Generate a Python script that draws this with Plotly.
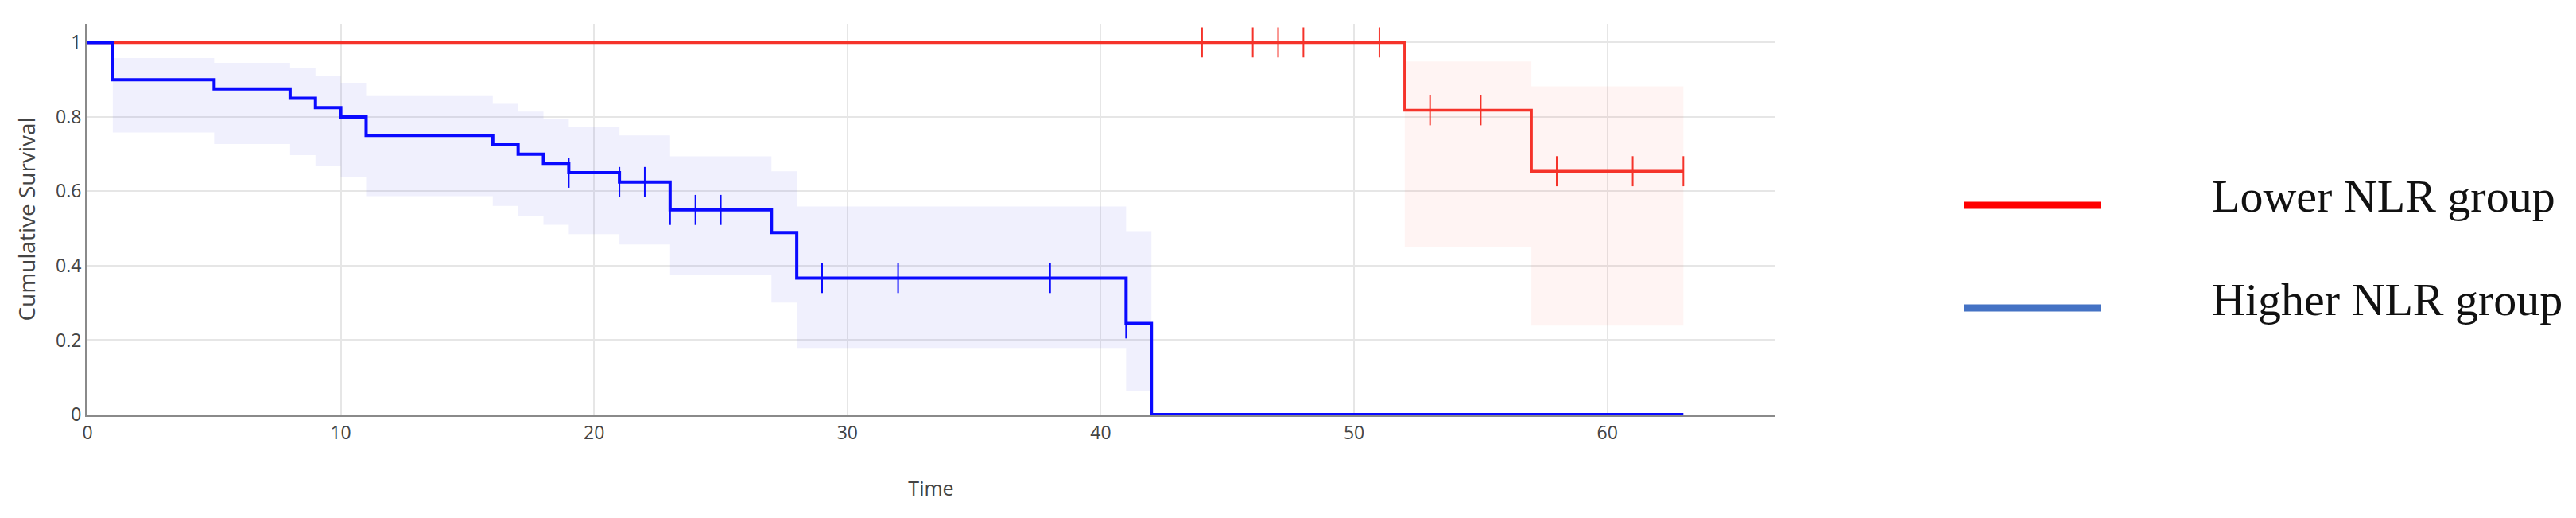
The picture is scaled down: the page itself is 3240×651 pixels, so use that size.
import plotly.graph_objects as go

# Kaplan-Meier curves
low_time = [0, 52, 57, 63]
low_surv = [1.0, 0.818, 0.654, 0.654]
low_ci_time = [52, 57, 63]
low_ci_upper = [0.949, 0.882, 0.882]
low_ci_lower = [0.450, 0.239, 0.239]
low_cens_time = [44, 46, 47, 48, 51, 53, 55, 58, 61, 63]
low_cens_surv = [1.0, 1.0, 1.0, 1.0, 1.0, 0.818, 0.818, 0.654, 0.654, 0.654]

high_time = [0, 1, 5, 8, 9, 10, 11, 16, 17, 18, 19, 21, 23, 27, 28, 41, 42, 63]
high_surv = [1.0, 0.9, 0.875, 0.85, 0.825, 0.8, 0.75, 0.725, 0.7, 0.675, 0.65,
             0.625, 0.55, 0.489, 0.367, 0.245, 0.0, 0.0]
high_ci_time = [1, 5, 8, 9, 10, 11, 16, 17, 18, 19, 21, 23, 27, 28, 41, 42]
high_ci_upper = [0.958, 0.945, 0.932, 0.910, 0.892, 0.856, 0.835, 0.814, 0.795,
                 0.774, 0.750, 0.694, 0.654, 0.559, 0.493, 0.493]
high_ci_lower = [0.758, 0.727, 0.697, 0.667, 0.639, 0.587, 0.561, 0.534, 0.510,
                 0.485, 0.457, 0.375, 0.301, 0.179, 0.064, 0.064]
high_cens_time = [19, 21, 22, 23, 24, 25, 29, 32, 38, 41]
high_cens_surv = [0.65, 0.625, 0.625, 0.55, 0.55, 0.55, 0.367, 0.367, 0.367, 0.245]

x_ticks = [0, 10, 20, 30, 40, 50, 60]
y_ticks = [0, 0.2, 0.4, 0.6, 0.8, 1]
legend_names = ["Lower NLR group", "Higher NLR group"]

RED = "#f5332a"
BLUE = "#0a0aff"

fig = go.Figure()


def add_band(t, lo, hi, fillcolor):
    fig.add_trace(go.Scatter(x=t, y=lo, mode="lines", line=dict(width=0, shape="hv"),
                             showlegend=False, hoverinfo="skip"))
    fig.add_trace(go.Scatter(x=t, y=hi, mode="lines", line=dict(width=0, shape="hv"),
                             fill="tonexty", fillcolor=fillcolor,
                             showlegend=False, hoverinfo="skip"))


add_band(high_ci_time, high_ci_lower, high_ci_upper, "rgba(60,60,230,0.08)")
add_band(low_ci_time, low_ci_lower, low_ci_upper, "rgba(255,60,50,0.06)")

fig.add_trace(go.Scatter(x=low_time, y=low_surv, mode="lines",
                         line=dict(color=RED, width=3.5, shape="hv"), showlegend=False))
fig.add_trace(go.Scatter(x=high_time, y=high_surv, mode="lines",
                         line=dict(color=BLUE, width=4, shape="hv"), showlegend=False))

fig.add_trace(go.Scatter(x=low_cens_time, y=low_cens_surv, mode="markers",
                         marker=dict(symbol="line-ns", size=27,
                                     line=dict(color=RED, width=2)),
                         showlegend=False))
fig.add_trace(go.Scatter(x=high_cens_time, y=high_cens_surv, mode="markers",
                         marker=dict(symbol="line-ns", size=27,
                                     line=dict(color=BLUE, width=2)),
                         showlegend=False))

# plot area in pixels
W, H = 3240, 651
L, R, T, B = 102, 2224, 22, 513


def px(x, y):
    return (x - L) / (R - L), (B - y) / (B - T)


# hand-made legend to the right of the plot
leg_colors = ["#ff0000", "#4472c4"]
leg_line_y = [250, 379]
leg_text_y = [238, 368]
for name, col, ly, ty in zip(legend_names, leg_colors, leg_line_y, leg_text_y):
    x0, y0 = px(2462, ly)
    x1, _ = px(2634, ly)
    fig.add_shape(type="line", xref="paper", yref="paper", x0=x0, x1=x1, y0=y0, y1=y0,
                  line=dict(color=col, width=9))
    tx, tyy = px(2772, ty)
    fig.add_annotation(text=name, xref="paper", yref="paper", x=tx, y=tyy,
                       xanchor="left", yanchor="middle", showarrow=False,
                       font=dict(family="Liberation Serif", size=58, color="#111111"))

fig.update_layout(
    width=W, height=H,
    margin=dict(l=L, r=W - R, t=T, b=H - B),
    paper_bgcolor="white", plot_bgcolor="white",
    font=dict(family="Open Sans", color="#444444"),
    showlegend=False,
)
fig.update_xaxes(
    range=[0, 66.6], tickvals=x_ticks, tickfont=dict(size=23),
    showgrid=True, gridcolor="#e6e6e6", gridwidth=2,
    showline=True, linecolor="#8a8a8a", linewidth=3, zeroline=False,
    title=dict(text="Time", font=dict(size=25), standoff=48),
)
fig.update_yaxes(
    range=[0, 1.05], tickvals=y_ticks, tickfont=dict(size=23),
    showgrid=True, gridcolor="#e6e6e6", gridwidth=2,
    showline=True, linecolor="#8a8a8a", linewidth=3, zeroline=False,
    title=dict(text="Cumulative Survival", font=dict(size=28), standoff=18),
)

fig.write_html("out.html")
